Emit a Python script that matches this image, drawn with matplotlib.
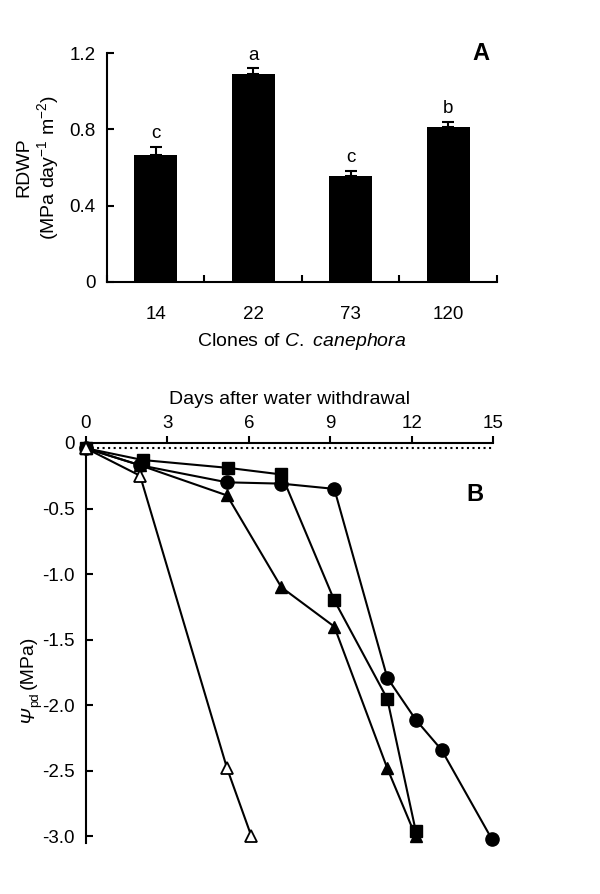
import numpy as np
import matplotlib
matplotlib.use("Agg")
import matplotlib.pyplot as plt
from matplotlib.transforms import offset_copy


# panel A: rate of decline of water potential per clone
clones = ["14", "22", "73", "120"]
rdwp = [0.668, 1.089, 0.553, 0.81]
rdwp_err = [0.04, 0.03, 0.03, 0.03]
letters = ["c", "a", "c", "b"]

# panel B: predawn leaf water potential vs days after water withdrawal
days_open_tri = [0, 2.0, 5.2, 6.1]
psi_open_tri = [-0.04, -0.25, -2.48, -3.0]
days_tri = [0, 2.0, 5.2, 7.2, 9.15, 11.1, 12.15]
psi_tri = [-0.04, -0.17, -0.4, -1.1, -1.4, -2.48, -3.0]
days_sq = [0, 2.1, 5.25, 7.2, 9.15, 11.1, 12.15]
psi_sq = [-0.04, -0.13, -0.19, -0.24, -1.2, -1.95, -2.96]
days_circ = [0, 2.0, 5.2, 7.2, 9.15, 11.1, 12.15, 13.1, 14.95]
psi_circ = [-0.04, -0.17, -0.3, -0.31, -0.35, -1.79, -2.11, -2.34, -3.02]
baseline = -0.04

FONT = "Liberation Sans"
TICK_FS = 13.5
LABEL_FS = 14


def panel_a(ax):
    x = np.arange(len(clones))
    ax.bar(x, rdwp, width=0.44, color="black", zorder=2)
    ax.errorbar(x, rdwp, yerr=[np.zeros(len(x)), rdwp_err], fmt="none",
                ecolor="black", elinewidth=1.5, capsize=4.5, capthick=1.5,
                zorder=1)
    for xi, v, e, l in zip(x, rdwp, rdwp_err, letters):
        ax.text(xi, v + e + 0.025, l, ha="center", va="bottom",
                fontsize=TICK_FS)

    ax.set_xlim(-0.5, len(clones) - 0.5)
    ax.set_ylim(0, 1.2)
    ax.set_yticks([0, 0.4, 0.8, 1.2])
    ax.set_yticklabels(["0", "0.4", "0.8", "1.2"])
    ax.set_xticks(np.arange(-0.5, len(clones), 1.0))
    ax.set_xticklabels([])
    ax.set_xticks(x, minor=True)
    ax.set_xticklabels(clones, minor=True)
    ax.tick_params(axis="x", which="minor", length=0, pad=17,
                   labelsize=TICK_FS)
    ax.tick_params(axis="x", which="major", direction="in", length=5,
                   width=1.5)
    ax.tick_params(axis="y", direction="in", length=5, width=1.5, pad=8,
                   labelsize=TICK_FS)
    for s in ["top", "right"]:
        ax.spines[s].set_visible(False)
    for s in ["left", "bottom"]:
        ax.spines[s].set_linewidth(1.5)

    ax.set_ylabel("RDWP\n(MPa day$^{-1}$ m$^{-2}$)", fontsize=LABEL_FS,
                  linespacing=1.15, labelpad=6)
    ax.set_xlabel("Clones of $\\it{C.}$ $\\it{canephora}$", fontsize=LABEL_FS,
                  labelpad=6)
    ax.text(0.96, 1.0, "A", transform=ax.transAxes, fontsize=17,
            fontweight="bold", ha="center", va="center")


def panel_b(ax):
    ax.plot([0, 15], [baseline, baseline], ls=":", color="black", lw=1.5,
            zorder=1)
    style = dict(color="black", lw=1.5, clip_on=False, zorder=3)
    ax.plot(days_circ, psi_circ, marker="o", ms=9.5, mfc="black", **style)
    ax.plot(days_sq, psi_sq, marker="s", ms=8.5, mfc="black", **style)
    ax.plot(days_tri, psi_tri, marker="^", ms=9, mfc="black", **style)
    ax.plot(days_open_tri, psi_open_tri, marker="^", ms=9, mfc="white",
            mew=1.3, **style)

    ax.set_xlim(0, 15)
    ax.set_ylim(-3.05, 0)
    ax.xaxis.set_ticks_position("top")
    ax.xaxis.set_label_position("top")
    ax.set_xticks([0, 3, 6, 9, 12, 15])
    ax.set_yticks([0, -0.5, -1.0, -1.5, -2.0, -2.5, -3.0])
    ax.set_yticklabels(["0", "-0.5", "-1.0", "-1.5", "-2.0", "-2.5", "-3.0"])
    ax.tick_params(axis="x", direction="out", length=5, width=1.5, pad=3,
                   labelsize=TICK_FS)
    ax.tick_params(axis="y", direction="in", length=5, width=1.5, pad=8,
                   labelsize=TICK_FS)
    for s in ["bottom", "right"]:
        ax.spines[s].set_visible(False)
    for s in ["left", "top"]:
        ax.spines[s].set_linewidth(1.5)

    ax.set_xlabel("Days after water withdrawal", fontsize=LABEL_FS,
                  labelpad=8)
    ax.text(0.955, 0.87, "B", transform=ax.transAxes, fontsize=17,
            fontweight="bold", ha="center", va="center")


def psi_label(fig):
    # mathtext keeps greek capitals upright, so build the label piece by piece
    x0, y0 = 33 / 600, 1 - 723 / 894
    kw = dict(rotation=90, rotation_mode="anchor", ha="left", va="baseline")
    psi = fig.text(x0, y0, "Ψ", fontsize=LABEL_FS, style="italic", **kw)
    fig.canvas.draw()
    h = psi.get_window_extent().height * 72 / fig.dpi
    sub_tr = offset_copy(fig.transFigure, fig=fig, x=3.5, y=h - 0.5,
                         units="points")
    sub = fig.text(x0, y0, "pd", fontsize=9.5, transform=sub_tr, **kw)
    fig.canvas.draw()
    h2 = sub.get_window_extent().height * 72 / fig.dpi
    rest_tr = offset_copy(fig.transFigure, fig=fig, x=0, y=h + h2 + 2,
                          units="points")
    fig.text(x0, y0, "(MPa)", fontsize=LABEL_FS, transform=rest_tr, **kw)


def main():
    plt.rcParams["font.family"] = [FONT, "DejaVu Sans"]
    plt.rcParams["mathtext.fontset"] = "custom"
    plt.rcParams["mathtext.rm"] = FONT
    plt.rcParams["mathtext.it"] = FONT + ":italic"
    plt.rcParams["mathtext.bf"] = FONT + ":bold"

    fig = plt.figure(figsize=(6, 8.94), dpi=100)
    ax_a = fig.add_axes([0.178, 0.6846, 0.65, 0.2561])
    ax_b = fig.add_axes([0.143, 0.057, 0.679, 0.4475])
    panel_a(ax_a)
    panel_b(ax_b)
    psi_label(fig)
    fig.savefig("out.png", dpi=100)
    plt.close(fig)


if __name__ == "__main__":
    main()
